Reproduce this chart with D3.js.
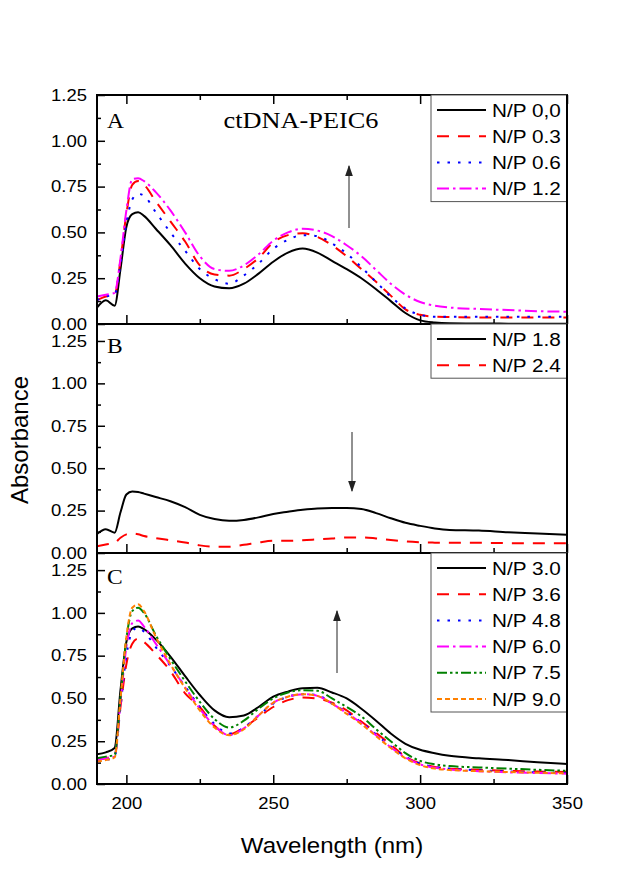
<!DOCTYPE html>
<html>
<head>
<meta charset="utf-8">
<script src="https://cdn.jsdelivr.net/npm/d3@7"></script>
<style>
  body { margin: 0; background: #fff; }
  svg { display: block; }
  text { font-family: Arial, "Liberation Sans", sans-serif; fill: #000; }
</style>
</head>
<body>
<div id="chart"></div>
<script>
// wavelength grid (nm) shared by all spectra
const wl = [190, 193, 196, 198, 200, 202, 204, 206, 210, 215, 220, 225, 230, 235, 240, 245, 250,
            255, 260, 265, 270, 275, 280, 285, 290, 295, 300, 305, 310, 320, 330, 340, 350];

// panel A
const a_np00 = [0.09, 0.13, 0.10, 0.30, 0.53, 0.60, 0.61, 0.59, 0.52, 0.43, 0.33, 0.25, 0.205, 0.195, 0.22, 0.275, 0.34,
                0.39, 0.412, 0.39, 0.345, 0.30, 0.25, 0.19, 0.125, 0.06, 0.02, 0.008, 0.004, 0.003, 0.002, 0.002, 0.002];
const a_np03 = [0.13, 0.15, 0.16, 0.35, 0.60, 0.76, 0.78, 0.76, 0.67, 0.56, 0.45, 0.32, 0.27, 0.264, 0.30, 0.36, 0.445,
                0.485, 0.495, 0.475, 0.43, 0.37, 0.30, 0.23, 0.155, 0.08, 0.05, 0.04, 0.038, 0.035, 0.035, 0.035, 0.035];
const a_np06 = [0.13, 0.15, 0.16, 0.33, 0.55, 0.68, 0.71, 0.70, 0.61, 0.50, 0.40, 0.30, 0.245, 0.22, 0.265, 0.33, 0.41,
                0.46, 0.485, 0.48, 0.44, 0.385, 0.31, 0.23, 0.15, 0.085, 0.05, 0.04, 0.04, 0.04, 0.04, 0.04, 0.04];
const a_np12 = [0.15, 0.16, 0.17, 0.36, 0.62, 0.79, 0.795, 0.78, 0.72, 0.62, 0.50, 0.37, 0.30, 0.29, 0.32, 0.38, 0.455,
                0.50, 0.52, 0.51, 0.48, 0.43, 0.37, 0.295, 0.22, 0.16, 0.12, 0.10, 0.09, 0.082, 0.076, 0.07, 0.067];

// panel B
const b_np18 = [0.112, 0.14, 0.12, 0.24, 0.345, 0.363, 0.36, 0.35, 0.33, 0.305, 0.27, 0.225, 0.20, 0.19, 0.195, 0.21, 0.23,
                0.243, 0.255, 0.263, 0.265, 0.265, 0.26, 0.235, 0.205, 0.178, 0.16, 0.145, 0.136, 0.132, 0.122, 0.115, 0.107];
const b_np24 = [0.04, 0.05, 0.06, 0.09, 0.11, 0.115, 0.11, 0.10, 0.088, 0.075, 0.062, 0.045, 0.037, 0.037, 0.048, 0.062, 0.072,
                0.072, 0.075, 0.08, 0.085, 0.092, 0.092, 0.086, 0.077, 0.068, 0.063, 0.061, 0.06, 0.06, 0.058, 0.057, 0.057];

// panel C
const c_np30 = [0.174, 0.185, 0.21, 0.55, 0.83, 0.91, 0.92, 0.905, 0.845, 0.745, 0.63, 0.52, 0.43, 0.39, 0.40, 0.45, 0.51,
                0.54, 0.56, 0.562, 0.535, 0.50, 0.44, 0.37, 0.295, 0.235, 0.20, 0.18, 0.165, 0.15, 0.14, 0.127, 0.117];
const c_np36 = [0.14, 0.15, 0.17, 0.45, 0.70, 0.82, 0.85, 0.83, 0.76, 0.66, 0.53, 0.45, 0.34, 0.29, 0.33, 0.39, 0.45,
                0.49, 0.505, 0.50, 0.475, 0.43, 0.365, 0.30, 0.23, 0.16, 0.12, 0.10, 0.09, 0.083, 0.077, 0.073, 0.07];
const c_np48 = [0.13, 0.14, 0.16, 0.45, 0.75, 0.89, 0.915, 0.89, 0.80, 0.69, 0.57, 0.45, 0.35, 0.295, 0.33, 0.40, 0.47,
                0.51, 0.525, 0.52, 0.47, 0.42, 0.36, 0.29, 0.22, 0.16, 0.12, 0.10, 0.09, 0.08, 0.073, 0.068, 0.065];
const c_np60 = [0.14, 0.15, 0.16, 0.48, 0.80, 0.94, 0.955, 0.92, 0.82, 0.695, 0.565, 0.44, 0.34, 0.285, 0.325, 0.40, 0.475,
                0.51, 0.525, 0.515, 0.47, 0.415, 0.355, 0.285, 0.215, 0.155, 0.115, 0.095, 0.085, 0.075, 0.068, 0.064, 0.06];
const c_np75 = [0.15, 0.16, 0.17, 0.50, 0.85, 1.01, 1.03, 1.00, 0.87, 0.73, 0.60, 0.48, 0.38, 0.33, 0.37, 0.44, 0.50,
                0.535, 0.548, 0.545, 0.50, 0.45, 0.395, 0.32, 0.25, 0.18, 0.135, 0.115, 0.105, 0.097, 0.09, 0.083, 0.077];
const c_np90 = [0.13, 0.14, 0.155, 0.50, 0.86, 1.03, 1.05, 1.01, 0.86, 0.70, 0.56, 0.43, 0.33, 0.285, 0.32, 0.40, 0.475,
                0.51, 0.525, 0.515, 0.47, 0.41, 0.35, 0.28, 0.21, 0.15, 0.11, 0.09, 0.082, 0.075, 0.07, 0.066, 0.062];

const namesA = ["N/P 0,0", "N/P 0.3", "N/P 0.6", "N/P 1.2"];
const namesB = ["N/P 1.8", "N/P 2.4"];
const namesC = ["N/P 3.0", "N/P 3.6", "N/P 4.8", "N/P 6.0", "N/P 7.5", "N/P 9.0"];

const yTicks = [0, 0.25, 0.5, 0.75, 1.0, 1.25];
const yMinor = [0.125, 0.375, 0.625, 0.875, 1.125];
const xTicks = [200, 250, 300, 350];
const xMinor = [225, 275, 325];

// line styles (Origin-like)
const styles = [
  { color: "#000000", dash: null },
  { color: "#ff0000", dash: "12,9" },
  { color: "#0000ff", dash: "2.5,8" },
  { color: "#ff00ff", dash: "12,4,2.5,4" },
  { color: "#008000", dash: "10,3,2.5,3,2.5,3" },
  { color: "#ff8000", dash: "5,3" }
];

const SX = 1.12; // horizontal text stretch of the source figure
const W = 619, H = 880;
const left = 97, right = 567;

const svg = d3.select("#chart").append("svg").attr("width", W).attr("height", H);
const defs = svg.append("defs");
defs.append("marker").attr("id", "arr").attr("viewBox", "0 0 10 10").attr("refX", 9).attr("refY", 5)
  .attr("markerWidth", 11).attr("markerHeight", 11).attr("markerUnits", "userSpaceOnUse").attr("orient", "auto")
  .append("path").attr("d", "M0,1.5L10,5L0,8.5Z").attr("fill", "#222");

const x = d3.scaleLinear().domain([190, 350]).range([left, right]);

const panels = [
  { top: 95, bottom: 324, ymax: 1.25, data: [a_np00, a_np03, a_np06, a_np12], names: namesA,
    tag: "A", tagY: 128, topTicks: true, arrow: [349, 228, 166] },
  { top: 324, bottom: 553, ymax: 1.35, data: [b_np18, b_np24], names: namesB,
    tag: "B", tagY: 353, topTicks: false, arrow: [352, 432, 491] },
  { top: 553, bottom: 784, ymax: 1.35, data: [c_np30, c_np36, c_np48, c_np60, c_np75, c_np90], names: namesC,
    tag: "C", tagY: 584, topTicks: false, arrow: [337, 673, 611], xLabels: true }
];

function stext(g, tx, ty, str, size, anchor, family) {
  return g.append("text").attr("transform", `translate(${tx},${ty}) scale(${SX},1)`)
    .attr("text-anchor", anchor || "start").style("font-size", size + "px")
    .style("font-family", family || null).text(str);
}

panels.forEach(p => {
  const y = d3.scaleLinear().domain([0, p.ymax]).range([p.bottom, p.top]);
  const g = svg.append("g");

  // left axis, ticks inward
  const ya = g.append("g").attr("transform", `translate(${left},0)`)
    .call(d3.axisLeft(y).tickValues(yTicks).tickSizeInner(-8).tickSizeOuter(0).tickPadding(9).tickFormat(d3.format(".2f")));
  ya.select(".domain").remove();
  ya.selectAll("line").attr("stroke", "#000").attr("stroke-width", 1.5);
  ya.selectAll("text").style("font-size", "16.5px").style("font-family", "Arial, 'Liberation Sans', sans-serif")
    .attr("transform", `scale(${SX},1)`);
  g.append("g").attr("transform", `translate(${left},0)`)
    .call(d3.axisLeft(y).tickValues(yMinor).tickSize(-4).tickFormat(""))
    .call(s => s.select(".domain").remove()).selectAll("line").attr("stroke", "#000").attr("stroke-width", 1.5);

  // bottom axis, ticks inward
  const xa = g.append("g").attr("transform", `translate(0,${p.bottom})`)
    .call(d3.axisBottom(x).tickValues(xTicks).tickSizeInner(-9).tickSizeOuter(0).tickPadding(13)
      .tickFormat(p.xLabels ? d3.format("d") : ""));
  xa.select(".domain").remove();
  xa.selectAll("line").attr("stroke", "#000").attr("stroke-width", 1.5);
  xa.selectAll("text").style("font-size", "16.5px").style("font-family", "Arial, 'Liberation Sans', sans-serif")
    .attr("transform", `scale(${SX},1)`);
  g.append("g").attr("transform", `translate(0,${p.bottom})`)
    .call(d3.axisBottom(x).tickValues(xMinor).tickSize(-5).tickFormat(""))
    .call(s => s.select(".domain").remove()).selectAll("line").attr("stroke", "#000").attr("stroke-width", 1.5);

  if (p.topTicks) {
    g.append("g").attr("transform", `translate(0,${p.top})`)
      .call(d3.axisTop(x).tickValues(xTicks).tickSize(-9).tickFormat(""))
      .call(s => s.select(".domain").remove()).selectAll("line").attr("stroke", "#000").attr("stroke-width", 1.5);
    g.append("g").attr("transform", `translate(0,${p.top})`)
      .call(d3.axisTop(x).tickValues(xMinor).tickSize(-5).tickFormat(""))
      .call(s => s.select(".domain").remove()).selectAll("line").attr("stroke", "#000").attr("stroke-width", 1.5);
  }

  // spectra
  const line = d3.line().x((d, i) => x(wl[i])).y(d => y(d)).curve(d3.curveMonotoneX);
  p.data.forEach((ser, i) => {
    g.append("path").datum(ser).attr("d", line).attr("fill", "none")
      .attr("stroke", styles[i].color).attr("stroke-width", 2)
      .attr("stroke-dasharray", styles[i].dash);
  });

  // frame
  g.append("rect").attr("x", left).attr("y", p.top).attr("width", right - left).attr("height", p.bottom - p.top)
    .attr("fill", "none").attr("stroke", "#000").attr("stroke-width", 2);

  // legend
  const rowH = 26.2;
  const lg = g.append("g");
  const boxH = 15 + (p.names.length - 1) * rowH + 13;
  lg.append("rect").attr("x", 431).attr("y", p.top).attr("width", right - 431).attr("height", boxH)
    .attr("fill", "#fff").attr("stroke", "#555").attr("stroke-width", 1);
  p.names.forEach((n, i) => {
    const cy = p.top + 15 + i * rowH;
    lg.append("line").attr("x1", 437).attr("x2", 486).attr("y1", cy).attr("y2", cy)
      .attr("stroke", styles[i].color).attr("stroke-width", 2).attr("stroke-dasharray", styles[i].dash);
    stext(lg, 492, cy + 6.5, n, 18.5);
  });
  // redraw right frame edge over legend box
  g.append("line").attr("x1", right).attr("x2", right).attr("y1", p.top).attr("y2", p.bottom)
    .attr("stroke", "#000").attr("stroke-width", 2);

  // panel tag
  stext(g, 107, p.tagY, p.tag, 21, "start", "'Times New Roman', 'Liberation Serif', serif");

  // arrow
  g.append("line").attr("x1", p.arrow[0]).attr("x2", p.arrow[0]).attr("y1", p.arrow[1]).attr("y2", p.arrow[2])
    .attr("stroke", "#222").attr("stroke-width", 1).attr("marker-end", "url(#arr)");
});

// sample title in panel A
stext(svg, 301, 128, "ctDNA-PEIC6", 23.5, "middle", "'Times New Roman', 'Liberation Serif', serif");

// axis titles
svg.append("text").attr("transform", "translate(28,440) rotate(-90)").attr("text-anchor", "middle")
  .style("font-size", "24px").text("Absorbance");
stext(svg, 332, 853, "Wavelength (nm)", 21.5, "middle");
</script>
</body>
</html>
